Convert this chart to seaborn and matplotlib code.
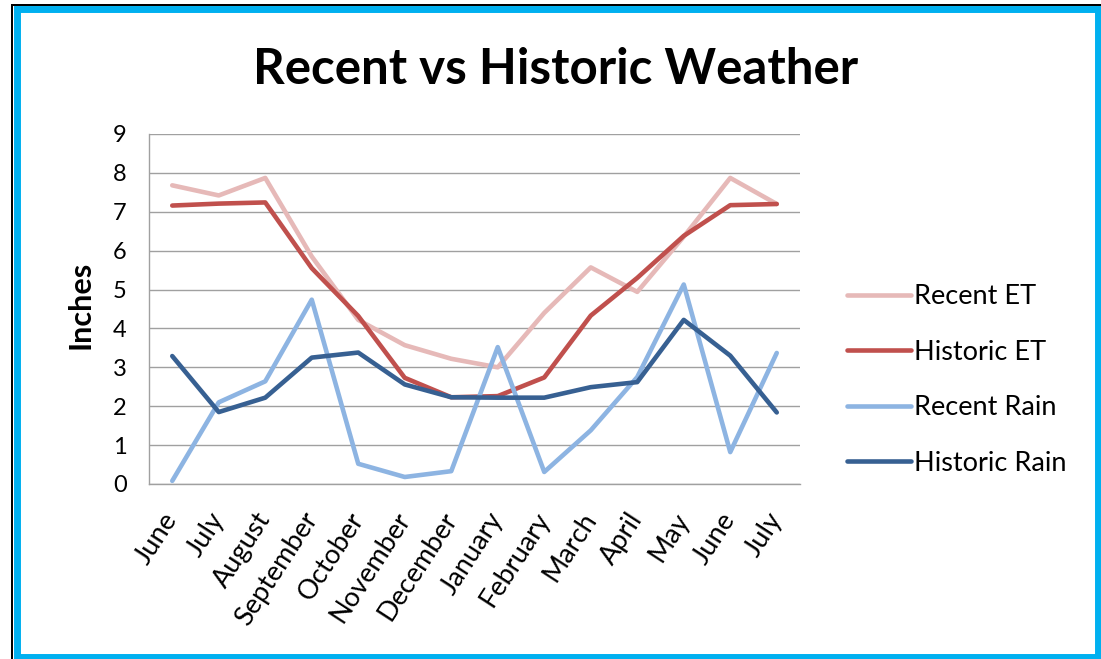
import matplotlib
matplotlib.use("Agg")
import matplotlib.pyplot as plt
from matplotlib.patches import Rectangle
import seaborn as sns
import pandas as pd

# month labels (June of one year through July of the next)
months = ["June", "July", "August", "September", "October", "November", "December",
          "January", "February", "March", "April", "May", "June", "July"]

recent_et = [7.68, 7.42, 7.87, 5.85, 4.22, 3.57, 3.22, 3.00, 4.40, 5.57, 4.94, 6.36, 7.87, 7.20]
historic_et = [7.16, 7.21, 7.24, 5.55, 4.32, 2.73, 2.23, 2.26, 2.74, 4.33, 5.30, 6.38, 7.17, 7.20]
recent_rain = [0.08, 2.10, 2.64, 4.74, 0.52, 0.18, 0.33, 3.52, 0.31, 1.38, 2.75, 5.13, 0.82, 3.37]
historic_rain = [3.29, 1.85, 2.22, 3.25, 3.38, 2.56, 2.23, 2.22, 2.22, 2.49, 2.62, 4.22, 3.30, 1.84]

series = {
    "Recent ET": recent_et,
    "Historic ET": historic_et,
    "Recent Rain": recent_rain,
    "Historic Rain": historic_rain,
}
colors = ["#E6B9B8", "#C0504D", "#8DB4E2", "#376092"]

rows = []
for name, vals in series.items():
    for i, v in enumerate(vals):
        rows.append({"pos": i, "series": name, "value": v})
df = pd.DataFrame(rows)

sns.set_style("white")
plt.rcParams["font.family"] = ["Lato", "DejaVu Sans"]
plt.rcParams["text.color"] = "black"
plt.rcParams["xtick.color"] = "black"
plt.rcParams["ytick.color"] = "black"
plt.rcParams["axes.labelcolor"] = "black"

fig = plt.figure(figsize=(11.01, 6.59), dpi=100)
W, H = 1101, 659

# outer frame: black shadow on left/top, blue border on top of the shadow
fig.patches.append(Rectangle((11 / W, 0), 2 / W, (659 - 4) / H, transform=fig.transFigure,
                             facecolor="black", edgecolor="none"))
fig.patches.append(Rectangle((11 / W, (659 - 6) / H), (1101 - 11) / W, 2 / H, transform=fig.transFigure,
                             facecolor="black", edgecolor="none"))
fig.patches.append(Rectangle((16.5 / W, 2.5 / H), (1097.5 - 16.5) / W, (650 - 2.5) / H,
                             transform=fig.transFigure, facecolor="none", edgecolor="#00B0F0",
                             linewidth=5.0))

ax = fig.add_axes([149 / W, (659 - 484) / H, 651 / W, 350 / H])

sns.lineplot(data=df, x="pos", y="value", hue="series", palette=colors,
             linewidth=3.3, ax=ax, legend=False)

ax.set_xlim(-0.5, len(months) - 0.5)
ax.set_ylim(0, 9)
ax.set_yticks(range(0, 10))
ax.set_xticks(range(len(months)))
ax.set_xticklabels(months, rotation=57, ha="right", va="center", rotation_mode="anchor", fontsize=19.5)
ax.tick_params(axis="y", labelsize=17, length=0, pad=16)
ax.tick_params(axis="x", length=0, pad=22)
ax.yaxis.grid(True, color="#A0A0A0", linewidth=1)
ax.set_axisbelow(True)
for side in ["top", "right"]:
    ax.spines[side].set_visible(False)
for side in ["left", "bottom"]:
    ax.spines[side].set_color("#A0A0A0")
    ax.spines[side].set_linewidth(1)
ax.set_xlabel("")
ax.set_ylabel("Inches", fontsize=22, fontweight="bold")
ax.yaxis.set_label_coords((94 - 149) / 651, (484 - 305) / 350)

fig.text(556 / W, 1 - 70 / H, "Recent vs Historic Weather", fontsize=35.5, fontweight="bold",
         ha="center", va="center")

handles = [plt.Line2D([], [], color=c, linewidth=3.3) for c in colors]
fig.legend(handles, list(series.keys()), loc="center left",
           bbox_to_anchor=(823 / W, 1 - 380 / H), frameon=False, fontsize=19.5,
           handlelength=2.35, handletextpad=0.12, labelspacing=1.13)

fig.savefig("out.png", dpi=100)
